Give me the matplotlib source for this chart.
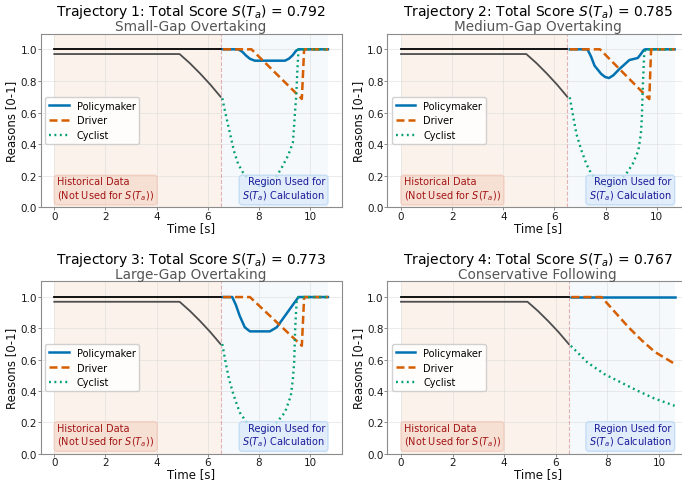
import matplotlib
matplotlib.use("Agg")
import matplotlib.pyplot as plt

# --- history (same for all four trajectories) ---
hist_t = [0, 6.5]
hist_top = [1.0, 1.0]
hist_cyc_t = [0, 4.9, 5.3, 5.7, 6.1, 6.5]
hist_cyc = [0.97, 0.97, 0.912, 0.847, 0.777, 0.70]

titles = ["Trajectory 1: Total Score $S(T_a)$ = 0.792",
          "Trajectory 2: Total Score $S(T_a)$ = 0.785",
          "Trajectory 3: Total Score $S(T_a)$ = 0.773",
          "Trajectory 4: Total Score $S(T_a)$ = 0.767"]
subtitles = ["Small-Gap Overtaking", "Medium-Gap Overtaking",
             "Large-Gap Overtaking", "Conservative Following"]
t_end = [10.7, 10.7, 10.7, 10.6]

# --- trajectory 1 ---
pol1_t = [6.6, 7.19, 7.35, 7.5, 7.65, 7.84, 9.02, 9.17, 9.32, 9.45, 9.55, 10.7]
pol1 = [1.0, 1.0, 0.985, 0.96, 0.94, 0.928, 0.928, 0.94, 0.962, 0.99, 1.0, 1.0]
drv1_t = [6.6, 7.71, 9.68, 9.77, 10.7]
drv1 = [1.0, 1.0, 0.686, 1.0, 1.0]
cyc1_t = [6.57, 6.70, 6.86, 7.02, 7.19, 7.38, 7.58, 7.8, 8.1, 8.4, 8.63, 8.89,
          9.15, 9.33, 9.38, 9.42, 9.46, 9.5, 9.55, 10.7]
cyc1 = [0.69, 0.59, 0.475, 0.36, 0.274, 0.22, 0.18, 0.15, 0.13, 0.145, 0.18, 0.25,
        0.33, 0.41, 0.52, 0.62, 0.70, 0.85, 1.0, 1.0]

# --- trajectory 2 ---
pol2_t = [6.6, 7.29, 7.43, 7.57, 7.83, 7.98, 8.13, 8.3, 8.54, 8.93, 9.26, 9.38, 9.49, 9.55, 10.7]
pol2 = [1.0, 1.0, 0.955, 0.896, 0.844, 0.825, 0.818, 0.835, 0.875, 0.932, 0.945, 0.97, 0.995, 1.0, 1.0]
drv2_t = [6.6, 7.78, 9.71, 9.78, 10.7]
drv2 = [1.0, 1.0, 0.685, 1.0, 1.0]
cyc2_t = [6.6, 6.74, 6.86, 7.06, 7.25, 7.45, 7.7, 8.1, 8.5, 8.8, 9.06, 9.28,
          9.38, 9.42, 9.46, 9.51, 9.55, 10.7]
cyc2 = [0.696, 0.57, 0.464, 0.358, 0.274, 0.21, 0.16, 0.13, 0.16, 0.21, 0.274, 0.358,
        0.464, 0.57, 0.78, 0.97, 1.0, 1.0]

# --- trajectory 3 ---
pol3_t = [6.6, 6.96, 7.1, 7.25, 7.45, 7.65, 8.43, 8.7, 9.02, 9.35, 9.55, 10.7]
pol3 = [1.0, 1.0, 0.95, 0.88, 0.807, 0.781, 0.781, 0.807, 0.88, 0.955, 1.0, 1.0]
drv3_t = [6.6, 7.65, 9.68, 9.77, 10.7]
drv3 = [1.0, 1.0, 0.689, 1.0, 1.0]
cyc3_t = [6.57, 6.7, 6.83, 7.02, 7.25, 7.52, 7.8, 8.1, 8.4, 8.7, 9.02, 9.25,
          9.33, 9.38, 9.42, 9.48, 9.55, 10.7]
cyc3 = [0.70, 0.583, 0.477, 0.37, 0.264, 0.2, 0.15, 0.13, 0.15, 0.2, 0.264, 0.37,
        0.477, 0.583, 0.796, 0.987, 1.0, 1.0]

# --- trajectory 4 ---
pol4_t = [6.6, 10.6]
pol4 = [1.0, 1.0]
drv4_t = [6.6, 7.77, 8.29, 8.81, 9.33, 9.84, 10.6]
drv4 = [1.0, 1.0, 0.904, 0.808, 0.723, 0.649, 0.574]
cyc4_t = [6.58, 7.22, 7.87, 8.52, 9.16, 9.81, 10.6]
cyc4 = [0.689, 0.583, 0.509, 0.455, 0.402, 0.353, 0.306]

series = [(pol1_t, pol1, drv1_t, drv1, cyc1_t, cyc1),
          (pol2_t, pol2, drv2_t, drv2, cyc2_t, cyc2),
          (pol3_t, pol3, drv3_t, drv3, cyc3_t, cyc3),
          (pol4_t, pol4, drv4_t, drv4, cyc4_t, cyc4)]

W, H = 682, 485
fig = plt.figure(figsize=(W / 100, H / 100), dpi=100)
# axes rectangles in pixels: left, top, width, height
rects = [(40.6, 34.5, 301, 173.8), (387.3, 34.5, 301, 173.8),
         (40.6, 282.4, 301, 172.3), (387.3, 282.4, 301, 172.3)]

for i, (l, t, w, h) in enumerate(rects):
    ax = fig.add_axes([l / W, 1 - (t + h) / H, w / W, h / H])
    pt, pv, dt, dv, ct, cv = series[i]

    ax.axvspan(0, 6.5, color='#D55E00', alpha=0.08, lw=0, zorder=0)
    ax.axvspan(6.5, t_end[i], color='#0072B2', alpha=0.04, lw=0, zorder=0)
    ax.axvline(6.5, color='indianred', alpha=0.45, linestyle='--', lw=0.8, zorder=1)

    ax.plot(hist_t, hist_top, color='black', lw=1.3, zorder=2)
    ax.plot(hist_cyc_t, hist_cyc, color='0.3', lw=1.3, zorder=2)

    ax.plot(pt, pv, color='#0072B2', lw=1.8, label='Policymaker', zorder=3)
    ax.plot(dt, dv, color='#D55E00', lw=1.8, linestyle=(0, (3.2, 1.6)), label='Driver', zorder=3)
    ax.plot(ct, cv, color='#009E73', lw=1.7, linestyle=(0, (0.8, 1.5)),
            label='Cyclist', zorder=3)

    ax.set_ylim(0, 1.1)
    ax.set_xticks([0, 2, 4, 6, 8, 10])
    ax.set_yticks([0.0, 0.2, 0.4, 0.6, 0.8, 1.0])
    ax.grid(True, color='0.85', alpha=0.6, lw=0.6)
    ax.set_axisbelow(True)
    for s in ax.spines.values():
        s.set_color('0.55')
        s.set_linewidth(0.8)
    ax.tick_params(labelsize=7.5, colors='0.55', labelcolor='0.1', length=2, width=0.7, pad=0.6)
    ax.set_xlabel('Time [s]', fontsize=8.5, labelpad=0, color='0.05')
    ax.set_ylabel('Reasons [0-1]', fontsize=8.5, labelpad=1.5, color='0.05')

    ax.set_title(subtitles[i], fontsize=9.8, color='#555555', pad=1.5)
    ax.annotate(titles[i], xy=(0.5, 1), xycoords='axes fraction',
                xytext=(0, 13), textcoords='offset points',
                ha='center', va='baseline', fontsize=10, color='black')

    leg = ax.legend(loc='center left', fontsize=7, framealpha=0.9,
                    edgecolor='0.8', fancybox=True)
    leg.set_zorder(5)

    ax.text(0.055, 0.031, 'Historical Data\n(Not Used for $S(T_a)$)',
            transform=ax.transAxes, ha='left', va='bottom', fontsize=7,
            color='#A31515', zorder=6,
            bbox=dict(boxstyle='round,pad=0.3', facecolor='#F4D3C4',
                      edgecolor='#F0C0B0', alpha=0.6))
    ax.text(0.945, 0.031, 'Region Used for\n$S(T_a)$ Calculation',
            transform=ax.transAxes, ha='right', va='bottom', fontsize=7,
            multialignment='right', color='#1A1A99', zorder=6,
            bbox=dict(boxstyle='round,pad=0.3', facecolor='#DCEBFB',
                      edgecolor='#BCD8F5', alpha=0.8))

fig.savefig('out.png', dpi=100)
